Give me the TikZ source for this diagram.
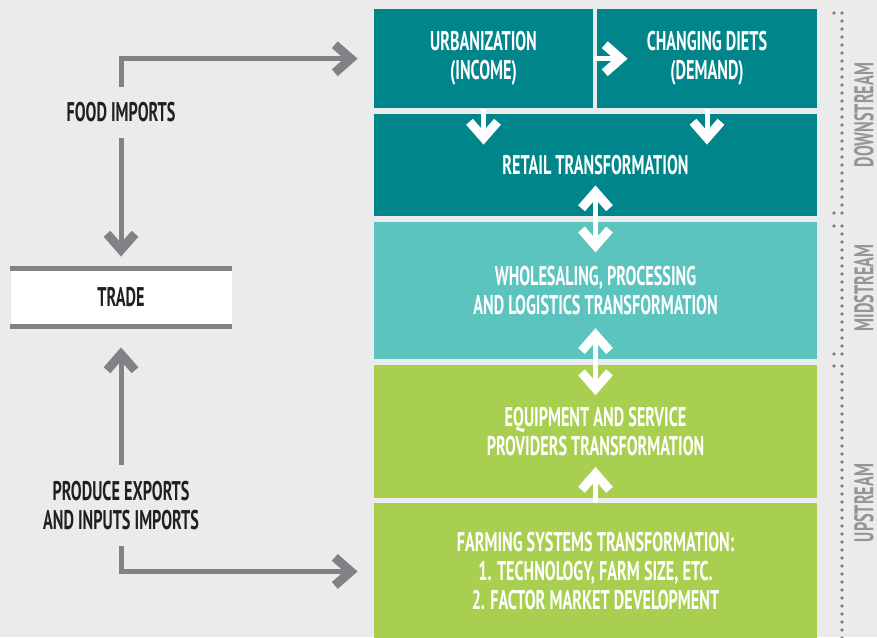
\documentclass[tikz,border=0pt]{standalone}
\usepackage{fontspec}
\setmainfont{PT Sans}[FakeStretch=0.6]
\usetikzlibrary{positioning, arrows.meta}

\definecolor{tealdark}{RGB}{0,134,138}
\definecolor{teallight}{RGB}{92,196,191}
\definecolor{leaf}{RGB}{168,207,80}
\definecolor{paper}{RGB}{235,235,235}
\definecolor{arrgray}{RGB}{128,130,133}
\definecolor{lblgray}{RGB}{147,149,152}
\definecolor{ink}{RGB}{35,31,32}

\begin{document}
\begin{tikzpicture}[x=0.5pt, y=-0.5pt,
  panel/.style={rectangle, inner sep=0pt, text=white, align=center,
    minimum width=221.5pt, font=\fontsize{13.5}{14.5}\selectfont\bfseries},
  sidetext/.style={inner sep=0pt, text=ink, align=center,
    font=\fontsize{13.5}{14.5}\selectfont\bfseries},
  streamlbl/.style={rotate=90, inner sep=0pt, text=lblgray,
    font=\fontsize{13.5}{14.5}\selectfont\bfseries},
  chev/.tip={Straight Barb[sharp, length=8pt, width=14pt, line width=4.5pt]},
  grayarrow/.style={draw=arrgray, line width=2.5pt, -chev},
  wharrow/.style={draw=white, line width=2.5pt, -chev},
  wharrows/.style={draw=white, line width=2.5pt, chev-chev},
  dotline/.style={draw=arrgray, line width=1.8pt, line cap=round,
    dash pattern=on 0pt off 4pt}]
\useasboundingbox (0,0) rectangle (877,637);
\fill[paper] (0,0) rectangle (877,637);

% the stream panels
\node[panel, fill=tealdark, minimum height=51pt] (retail) at (595.5,165) {RETAIL TRANSFORMATION};
\node[panel, fill=tealdark, minimum width=109.5pt, minimum height=49.5pt,
  above right=2.5pt and 0pt of retail.north west] (urb) {URBANIZATION\\(INCOME)};
\node[panel, fill=tealdark, minimum width=110pt, minimum height=49.5pt,
  above left=2.5pt and 0pt of retail.north east] (diets) {CHANGING DIETS\\(DEMAND)};
\node[panel, fill=teallight, minimum height=68.5pt, below=2.5pt of retail] (midstr)
  {WHOLESALING, PROCESSING\\AND LOGISTICS TRANSFORMATION};
\node[panel, fill=leaf, minimum height=66.5pt, below=2.5pt of midstr] (equip)
  {EQUIPMENT AND SERVICE\\PROVIDERS TRANSFORMATION};
\node[panel, fill=leaf, minimum height=68pt, below=2.5pt of equip] (farm)
  {FARMING SYSTEMS TRANSFORMATION:\\1. TECHNOLOGY, FARM SIZE, ETC.\\2. FACTOR MARKET DEVELOPMENT};

% white arrows between panels
\draw[wharrow, shorten >=-15.5pt] (urb.east) -- (diets.west);
\draw[wharrow, shorten >=-15.5pt] (urb.south) -- (urb.south |- retail.north);
\draw[wharrow, shorten >=-15.5pt] (diets.south) -- (diets.south |- retail.north);
\draw[wharrows, shorten <=-15.5pt, shorten >=-15.5pt] (retail.south) -- (midstr.north);
\draw[wharrows, shorten <=-15.5pt, shorten >=-15.5pt] (midstr.south) -- (equip.north);
\draw[wharrow, shorten >=-15.5pt] (farm.north) -- (equip.south);

% trade side
\node[sidetext, minimum height=25.5pt] (foodimp) at (121,112.5) {FOOD IMPORTS};
\node[sidetext, fill=white, minimum width=110.5pt, minimum height=29pt] (trade) at (121,297.5) {TRADE};
\node[sidetext, minimum height=40.5pt] (prodexp) at (121,505.5) {PRODUCE EXPORTS\\AND INPUTS IMPORTS};
\draw[arrgray, line width=2.5pt] (trade.north west) -- (trade.north east);
\draw[arrgray, line width=2.5pt] (trade.south west) -- (trade.south east);
\draw[grayarrow, shorten >=8pt] (foodimp) |- (urb);
\draw[grayarrow, shorten >=5.75pt] (foodimp) -- (trade);
\draw[grayarrow, shorten >=10.25pt] (prodexp) -- (trade);
\draw[grayarrow, shorten >=8pt] (prodexp) |- (farm);

% stream brackets
\foreach \ya/\yb in {13/213, 226/354, 366/646}
  \draw[dotline] (834,\ya) -- (842,\ya) -- (842,\yb) -- (834,\yb);
\node[streamlbl] (down) at (864,115) {DOWNSTREAM};
\node[streamlbl] (mid) at (864,288) {MIDSTREAM};
\node[streamlbl] (up) at (864,503) {UPSTREAM};
\end{tikzpicture}
\end{document}
